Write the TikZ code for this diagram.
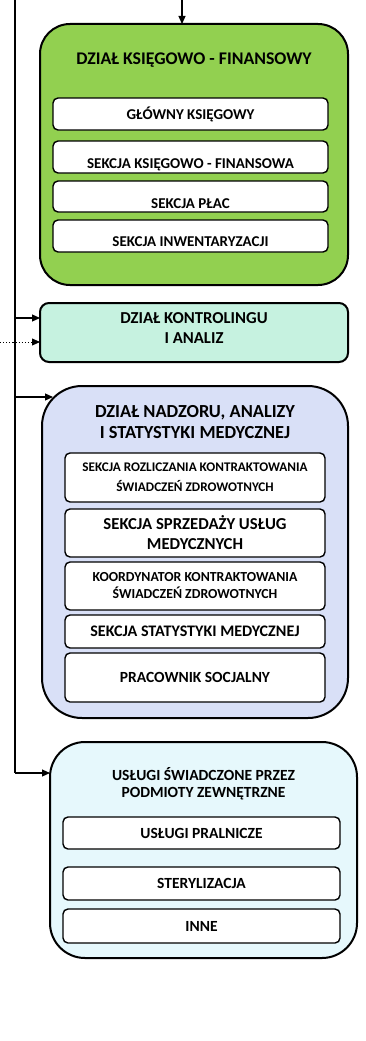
\documentclass[tikz,border=0pt]{standalone}
\usepackage{fontspec}
\setmainfont{Carlito}
\usetikzlibrary{arrows.meta}
\definecolor{grn}{HTML}{92D050}
\definecolor{mint}{HTML}{C6F2E0}
\definecolor{lav}{HTML}{D9E0F7}
\definecolor{cyanl}{HTML}{E6F8FC}
\begin{document}
\begin{tikzpicture}[x=1pt,y=-1pt,
  outerbox/.style={draw=black, line width=2pt, rectangle, inner sep=0pt, outer sep=0pt},
  innerbox/.style={draw=black, line width=1.4pt, fill=white, rectangle, rounded corners=5pt, inner sep=0pt, outer sep=0pt, align=center, font=\bfseries},
  lowtext/.style={text height=#1, text depth=0pt},
  ttl/.style={align=center, font=\bfseries, inner sep=0pt},
  arr/.style={line width=1.1pt, -{Triangle[length=8pt,width=7pt]}},
  spine/.style={line width=1.1pt}
]
\useasboundingbox (0,0) rectangle (365,1041);

% green box
\node[outerbox, fill=grn, rounded corners=30pt, minimum width=308pt, minimum height=261pt] (fin) at (194,154.5) {};
\node[ttl, font=\fontsize{17.8}{21}\selectfont\bfseries] (finT) at (194,60) {DZIAŁ KSIĘGOWO - FINANSOWY};
\node[innerbox, minimum width=275pt, minimum height=32pt, font=\fontsize{15}{18}\selectfont\bfseries] (fin1) at (190.5,114) {GŁÓWNY KSIĘGOWY};
\node[innerbox, lowtext=22pt, minimum width=275pt, minimum height=32pt, font=\fontsize{15}{18}\selectfont\bfseries] (fin2) at (190.5,157) {SEKCJA KSIĘGOWO - FINANSOWA};
\node[innerbox, lowtext=23pt, minimum width=275pt, minimum height=31pt, font=\fontsize{15}{18}\selectfont\bfseries] (fin3) at (190.5,196.5) {SEKCJA PŁAC};
\node[innerbox, lowtext=20pt, minimum width=275pt, minimum height=32pt, font=\fontsize{15}{18}\selectfont\bfseries] (fin4) at (190.5,236) {SEKCJA INWENTARYZACJI};

% kontroling
\node[outerbox, fill=mint, rounded corners=9pt, minimum width=308pt, minimum height=59pt] (kon) at (194,332.5) {};
\node[ttl, font=\fontsize{16.7}{20}\selectfont\bfseries] (konT) at (194,328) {DZIAŁ KONTROLINGU\\I ANALIZ};

% nadzoru
\node[outerbox, fill=lav, rounded corners=40pt, minimum width=306pt, minimum height=332pt] (nad) at (195,552) {};
\node[ttl, font=\fontsize{18.4}{21}\selectfont\bfseries] (nadT) at (195,422.5) {DZIAŁ NADZORU, ANALIZY\\I STATYSTYKI MEDYCZNEJ};
\node[innerbox, minimum width=260pt, minimum height=49pt, font=\fontsize{13.2}{20}\selectfont\bfseries] (nad1) at (195,477.5) {SEKCJA ROZLICZANIA KONTRAKTOWANIA\\ŚWIADCZEŃ ZDROWOTNYCH};
\node[innerbox, minimum width=260pt, minimum height=48pt, font=\fontsize{16.7}{20}\selectfont\bfseries] (nad2) at (195,533) {SEKCJA SPRZEDAŻY USŁUG\\MEDYCZNYCH};
\node[innerbox, minimum width=260pt, minimum height=48pt, font=\fontsize{13.8}{17}\selectfont\bfseries] (nad3) at (195,586) {KOORDYNATOR KONTRAKTOWANIA\\ŚWIADCZEŃ ZDROWOTNYCH};
\node[innerbox, minimum width=260pt, minimum height=33pt, font=\fontsize{16.1}{19}\selectfont\bfseries] (nad4) at (195,631.5) {SEKCJA STATYSTYKI MEDYCZNEJ};
\node[innerbox, minimum width=260pt, minimum height=49pt, font=\fontsize{15.5}{18}\selectfont\bfseries] (nad5) at (195,677.5) {PRACOWNIK SOCJALNY};

% uslugi
\node[outerbox, fill=cyanl, rounded corners=35pt, minimum width=307pt, minimum height=216pt] (usl) at (203.5,850) {};
\node[ttl, font=\fontsize{15.5}{17}\selectfont\bfseries] (uslT) at (203.5,783.5) {USŁUGI ŚWIADCZONE PRZEZ\\PODMIOTY ZEWNĘTRZNE};
\node[innerbox, minimum width=277pt, minimum height=32pt, font=\fontsize{15.5}{18}\selectfont\bfseries] (usl1) at (201.5,833) {USŁUGI PRALNICZE};
\node[innerbox, minimum width=277pt, minimum height=33pt, font=\fontsize{15.5}{18}\selectfont\bfseries] (usl2) at (201.5,883.5) {STERYLIZACJA};
\node[innerbox, minimum width=277pt, minimum height=34pt, font=\fontsize{15.5}{18}\selectfont\bfseries] (usl3) at (201.5,926) {INNE};

% connectors
\coordinate (top) at (182,0);
\coordinate (sTop) at (15,0);
\coordinate (sBot) at (15,773);
\coordinate (s1) at (15,318);
\coordinate (s3) at (15,397);
\coordinate (dot) at (0,342);
\draw[spine] (sTop) -- (sBot);
\draw[arr] (top) -- (top |- fin.north);
\draw[arr] (s1) -- (s1 -| kon.west);
\draw[arr, dotted, line width=0.8pt] (dot) -- (dot -| kon.west);
\draw[arr] (s3) -- ([xshift=11pt]s3 -| nad.west);
\draw[arr] (sBot) -- (sBot -| usl.west);
\end{tikzpicture}
\end{document}
